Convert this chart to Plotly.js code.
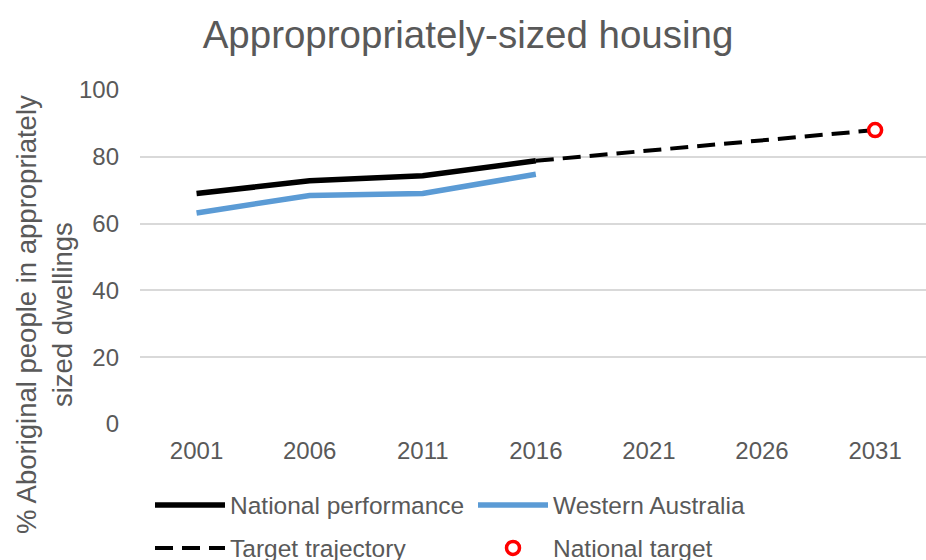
<!DOCTYPE html>
<html>
<head>
<meta charset="utf-8">
<script src="https://cdn.plot.ly/plotly-3.0.1.min.js"></script>
<style>html,body{margin:0;padding:0;background:#fff}#chart{width:926px;height:560px}</style>
</head>
<body>
<div id="chart"></div>
<script>
var years = ['2001','2006','2011','2016','2021','2026','2031'];
var nationalPerformance = [69.0, 72.8, 74.3, 78.8, null, null, null];
var westernAustralia = [63.2, 68.4, 69.0, 74.8, null, null, null];
var targetTrajectory = [null, null, null, 78.8, null, null, 88];
var nationalTarget = [null, null, null, null, null, null, 88];

var FONT = 'Liberation Sans, Arial, sans-serif';
var GREY = '#595959';

var traces = [
  {x: years, y: nationalPerformance, name: 'National performance', type: 'scatter', mode: 'lines',
   line: {color: '#000000', width: 5.5}, legend: 'legend'},
  {x: years, y: westernAustralia, name: 'Western Australia', type: 'scatter', mode: 'lines',
   line: {color: '#5B9BD5', width: 5.5}, legend: 'legend'},
  {x: years, y: targetTrajectory, name: 'Target trajectory', type: 'scatter', mode: 'lines',
   connectgaps: true, line: {color: '#000000', width: 4, dash: '18px,9px'}, legend: 'legend2'},
  {x: years, y: nationalTarget, name: 'National target', type: 'scatter', mode: 'markers',
   marker: {symbol: 'circle', size: 13, color: '#ffffff', line: {color: '#FF0000', width: 3.5}}, legend: 'legend2'}
];

var legendBase = {orientation: 'h', xref: 'container', xanchor: 'left', yref: 'container',
  yanchor: 'middle', entrywidth: 238, entrywidthmode: 'pixels', itemwidth: 70,
  font: {family: FONT, size: 24.5, color: GREY}, bgcolor: 'rgba(0,0,0,0)', traceorder: 'normal'};

var layout = {
  width: 926, height: 560,
  margin: {l: 140, r: 0, t: 90, b: 136},
  paper_bgcolor: '#ffffff', plot_bgcolor: '#ffffff',
  font: {family: FONT, color: GREY, size: 24},
  title: {text: 'Appropropriately-sized housing', x: 468/926, xanchor: 'center', xref: 'container',
          y: 1 - 35/560, yanchor: 'middle', yref: 'container',
          font: {family: FONT, size: 38.5, color: GREY}},
  xaxis: {type: 'category', range: [-0.5, 6.45], showgrid: false, zeroline: false,
          showline: false, ticks: '', ticklabelstandoff: 10, tickfont: {size: 24, color: GREY}, fixedrange: true},
  yaxis: {range: [0, 100], dtick: 20, tick0: 0, showgrid: true, gridcolor: '#D9D9D9', gridwidth: 2,
          zeroline: false, showline: false, ticks: '', ticklabelstandoff: 20,
          tickfont: {size: 24, color: GREY}, fixedrange: true},
  annotations: [{
    text: '% Aboriginal people in appropriately<br>sized dwellings', textangle: -90,
    xref: 'paper', yref: 'paper', x: (44 - 140)/786, y: (424 - 315)/334, xanchor: 'center', yanchor: 'middle',
    showarrow: false, font: {family: FONT, size: 27.5, color: GREY}
  }],
  showlegend: true,
  legend: Object.assign({}, legendBase, {x: 150/926, y: 1 - 505/560}),
  legend2: Object.assign({}, legendBase, {x: 150/926, y: 1 - 548/560})
};

Plotly.newPlot('chart', traces, layout, {displayModeBar: false, staticPlot: true});
</script>
</body>
</html>
